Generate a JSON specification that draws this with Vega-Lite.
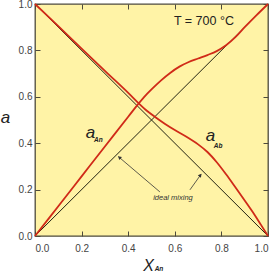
{
  "$schema": "https://vega.github.io/schema/vega-lite/v6.json",
  "width": 233,
  "height": 232,
  "autosize": {"type": "none"},
  "padding": {"left": 35, "top": 4, "right": 7, "bottom": 37},
  "background": "white",
  "config": {
    "view": {"fill": "#fff3a6", "stroke": "#4d4a3c", "strokeWidth": 1.3},
    "font": "Liberation Sans",
    "axis": {
      "grid": false,
      "domain": false,
      "tickColor": "#4d4a3c",
      "tickSize": -5,
      "tickWidth": 1,
      "labelColor": "#444444",
      "labelFontSize": 10,
      "labelFont": "Liberation Sans",
      "titleFont": "Liberation Sans",
      "titleColor": "#222222",
      "titleFontWeight": "normal",
      "titleFontStyle": "italic",
      "titleFontSize": 17
    }
  },
  "datasets": {
    "curves": [
      {"s": "An", "x": 0, "y": 0},
      {"s": "An", "x": 0.1, "y": 0.128},
      {"s": "An", "x": 0.2, "y": 0.257},
      {"s": "An", "x": 0.3, "y": 0.386},
      {"s": "An", "x": 0.4, "y": 0.514},
      {"s": "An", "x": 0.44, "y": 0.565},
      {"s": "An", "x": 0.47, "y": 0.601},
      {"s": "An", "x": 0.5, "y": 0.632},
      {"s": "An", "x": 0.54, "y": 0.67},
      {"s": "An", "x": 0.58, "y": 0.703},
      {"s": "An", "x": 0.62, "y": 0.73},
      {"s": "An", "x": 0.66, "y": 0.75},
      {"s": "An", "x": 0.7, "y": 0.765},
      {"s": "An", "x": 0.74, "y": 0.78},
      {"s": "An", "x": 0.78, "y": 0.797},
      {"s": "An", "x": 0.82, "y": 0.822},
      {"s": "An", "x": 0.86, "y": 0.857},
      {"s": "An", "x": 0.9, "y": 0.9},
      {"s": "An", "x": 0.95, "y": 0.951},
      {"s": "An", "x": 1, "y": 1},
      {"s": "Ab", "x": 0, "y": 1},
      {"s": "Ab", "x": 0.1, "y": 0.905},
      {"s": "Ab", "x": 0.2, "y": 0.808},
      {"s": "Ab", "x": 0.3, "y": 0.712},
      {"s": "Ab", "x": 0.4, "y": 0.617},
      {"s": "Ab", "x": 0.443, "y": 0.574},
      {"s": "Ab", "x": 0.48, "y": 0.54},
      {"s": "Ab", "x": 0.52, "y": 0.51},
      {"s": "Ab", "x": 0.56, "y": 0.482},
      {"s": "Ab", "x": 0.6, "y": 0.457},
      {"s": "Ab", "x": 0.65, "y": 0.428},
      {"s": "Ab", "x": 0.7, "y": 0.395},
      {"s": "Ab", "x": 0.74, "y": 0.362},
      {"s": "Ab", "x": 0.78, "y": 0.318},
      {"s": "Ab", "x": 0.82, "y": 0.266},
      {"s": "Ab", "x": 0.86, "y": 0.21},
      {"s": "Ab", "x": 0.9, "y": 0.153},
      {"s": "Ab", "x": 0.94, "y": 0.095},
      {"s": "Ab", "x": 0.97, "y": 0.048},
      {"s": "Ab", "x": 1, "y": 0}
    ],
    "ideal": [
      {"s": "An", "x": 0, "y": 0},
      {"s": "An", "x": 1, "y": 1},
      {"s": "Ab", "x": 0, "y": 1},
      {"s": "Ab", "x": 1, "y": 0}
    ]
  },
  "layer": [
    {
      "data": {"name": "ideal"},
      "mark": {"type": "line", "color": "#222211", "strokeWidth": 1},
      "encoding": {
        "x": {"field": "x", "type": "quantitative", "scale": {"domain": [0, 1], "nice": false},
          "axis": {"orient": "top", "labels": false, "title": null, "values": [0, 0.2, 0.4, 0.6, 0.8, 1]}},
        "y": {"field": "y", "type": "quantitative", "scale": {"domain": [0, 1], "nice": false},
          "axis": {"orient": "right", "labels": false, "title": null, "values": [0, 0.2, 0.4, 0.6, 0.8, 1]}},
        "detail": {"field": "s"}
      }
    },
    {
      "data": {"name": "curves"},
      "mark": {"type": "line", "color": "#d02a18", "strokeWidth": 1.8, "interpolate": "catmull-rom"},
      "encoding": {
        "x": {"field": "x", "type": "quantitative", "scale": {"domain": [0, 1], "nice": false},
          "axis": {"orient": "bottom", "format": ".1f", "values": [0, 0.2, 0.4, 0.6, 0.8, 1], "labelPadding": 12,
            "title": "X", "titleX": 113, "titleY": 34, "titleFontSize": 16, "titleBaseline": "alphabetic", "titleAlign": "center"}},
        "y": {"field": "y", "type": "quantitative", "scale": {"domain": [0, 1], "nice": false},
          "axis": {"orient": "left", "format": ".1f", "values": [0, 0.2, 0.4, 0.6, 0.8, 1], "labelPadding": 8,
            "title": "a", "titleAngle": 0, "titleX": -30, "titleY": 118, "titleBaseline": "alphabetic", "titleAlign": "center"}},
        "detail": {"field": "s"}
      }
    },
    {
      "data": {"values": [
        {"x": 0.536, "y": 0.19, "x2": 0.358, "y2": 0.342},
        {"x": 0.665, "y": 0.199, "x2": 0.712, "y2": 0.265}
      ]},
      "mark": {"type": "rule", "color": "#333333", "strokeWidth": 0.8},
      "encoding": {
        "x": {"field": "x", "type": "quantitative", "scale": {"domain": [0, 1], "nice": false}, "axis": null},
        "y": {"field": "y", "type": "quantitative", "scale": {"domain": [0, 1], "nice": false}, "axis": null},
        "x2": {"field": "x2"},
        "y2": {"field": "y2"}
      }
    },
    {
      "data": {"values": [{"x": 0.362, "y": 0.339}]},
      "mark": {"type": "point", "shape": "triangle-up", "filled": true, "color": "#333333", "size": 16, "angle": 310, "opacity": 1},
      "encoding": {
        "x": {"field": "x", "type": "quantitative", "scale": {"domain": [0, 1], "nice": false}, "axis": null},
        "y": {"field": "y", "type": "quantitative", "scale": {"domain": [0, 1], "nice": false}, "axis": null}
      }
    },
    {
      "data": {"values": [{"x": 0.71, "y": 0.262}]},
      "mark": {"type": "point", "shape": "triangle-up", "filled": true, "color": "#333333", "size": 16, "angle": 39, "opacity": 1},
      "encoding": {
        "x": {"field": "x", "type": "quantitative", "scale": {"domain": [0, 1], "nice": false}, "axis": null},
        "y": {"field": "y", "type": "quantitative", "scale": {"domain": [0, 1], "nice": false}, "axis": null}
      }
    },
    {
      "data": {"values": [
        {"x": 0.238, "y": 0.423, "t": "a"},
        {"x": 0.753, "y": 0.41, "t": "a"}
      ]},
      "mark": {"type": "text", "fontSize": 17, "fontStyle": "italic", "color": "#222222", "align": "center", "baseline": "alphabetic"},
      "encoding": {
        "x": {"field": "x", "type": "quantitative", "scale": {"domain": [0, 1], "nice": false}, "axis": null},
        "y": {"field": "y", "type": "quantitative", "scale": {"domain": [0, 1], "nice": false}, "axis": null},
        "text": {"field": "t"}
      }
    },
    {
      "data": {"values": [
        {"x": 0.272, "y": 0.405, "t": "An"},
        {"x": 0.786, "y": 0.378, "t": "Ab"},
        {"x": 0.532, "y": -0.153, "t": "An"}
      ]},
      "mark": {"type": "text", "fontSize": 6.5, "fontStyle": "italic", "fontWeight": "bold", "color": "#222222", "align": "center", "baseline": "alphabetic"},
      "encoding": {
        "x": {"field": "x", "type": "quantitative", "scale": {"domain": [0, 1], "nice": false}, "axis": null},
        "y": {"field": "y", "type": "quantitative", "scale": {"domain": [0, 1], "nice": false}, "axis": null},
        "text": {"field": "t"}
      }
    },
    {
      "data": {"values": [{"x": 0.725, "y": 0.911, "t": "T = 700 °C"}]},
      "mark": {"type": "text", "fontSize": 12.5, "color": "#222222", "align": "center", "baseline": "alphabetic"},
      "encoding": {
        "x": {"field": "x", "type": "quantitative", "scale": {"domain": [0, 1], "nice": false}, "axis": null},
        "y": {"field": "y", "type": "quantitative", "scale": {"domain": [0, 1], "nice": false}, "axis": null},
        "text": {"field": "t"}
      }
    },
    {
      "data": {"values": [{"x": 0.592, "y": 0.155, "t": "ideal mixing"}]},
      "mark": {"type": "text", "fontSize": 7.5, "fontStyle": "italic", "color": "#333333", "align": "center", "baseline": "alphabetic"},
      "encoding": {
        "x": {"field": "x", "type": "quantitative", "scale": {"domain": [0, 1], "nice": false}, "axis": null},
        "y": {"field": "y", "type": "quantitative", "scale": {"domain": [0, 1], "nice": false}, "axis": null},
        "text": {"field": "t"}
      }
    }
  ],
  "resolve": {"scale": {"x": "independent", "y": "independent"}}
}
